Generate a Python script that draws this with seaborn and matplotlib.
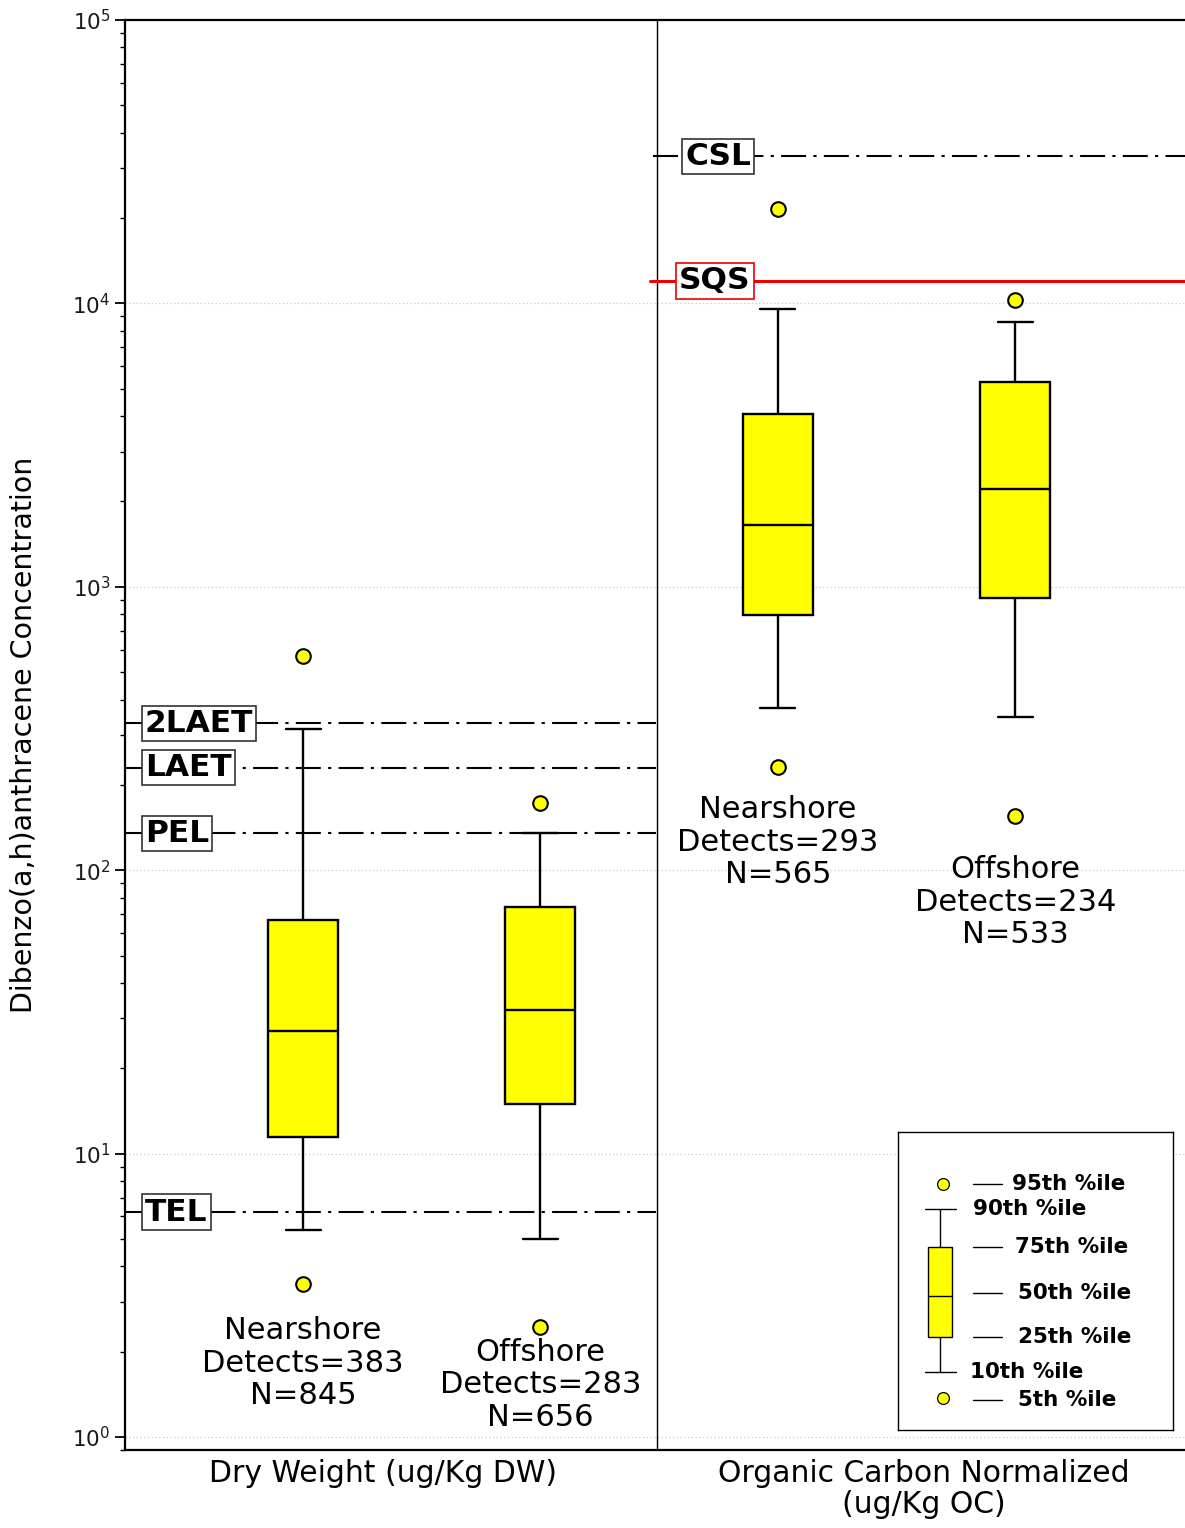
import numpy as np
import pandas as pd
import matplotlib
matplotlib.use("Agg")
import matplotlib.pyplot as plt
from matplotlib.patches import Rectangle
import seaborn as sns

# ---- data -------------------------------------------------------------
groups = ["Nearshore DW", "Offshore DW", "Nearshore OC", "Offshore OC"]
p05 = [3.47, 2.44, 231, 155]
p10 = [5.37, 5.0, 374, 347]
p25 = [11.4, 15.0, 795, 913]
p50 = [27.1, 32.1, 1652, 2213]
p75 = [66.7, 74.2, 4070, 5280]
p90 = [315, 135, 9550, 8600]
p95 = [570, 173, 21540, 10280]

group_text = [
    "Nearshore\nDetects=383\nN=845",
    "Offshore\nDetects=283\nN=656",
    "Nearshore\nDetects=293\nN=565",
    "Offshore\nDetects=234\nN=533",
]

dw_names = ["2LAET", "LAET", "PEL", "TEL"]
dw_values = [330, 230, 135, 6.22]
oc_names = ["CSL", "SQS"]
oc_values = [33000, 12000]

legend_labels = ["95th %ile", "90th %ile", "75th %ile", "50th %ile",
                 "25th %ile", "10th %ile", "5th %ile"]

# ---- long-form tables -------------------------------------------------
box_rows = []
for i, g in enumerate(groups):
    for v in (p10[i], p25[i], p50[i], p75[i], p90[i]):
        box_rows.append({"group": g, "value": v})
box_df = pd.DataFrame(box_rows)

pt_rows = []
for i, g in enumerate(groups):
    pt_rows.append({"group": g, "value": p05[i]})
    pt_rows.append({"group": g, "value": p95[i]})
pt_df = pd.DataFrame(pt_rows)

# ---- style ------------------------------------------------------------
sns.set_theme(style="white")
plt.rcParams["font.family"] = ["DejaVu Sans"]
plt.rcParams["text.color"] = "black"
plt.rcParams["axes.labelcolor"] = "black"
plt.rcParams["ytick.color"] = "black"

W, H = 1185, 1528
fig = plt.figure(figsize=(W / 100, H / 100), dpi=100)
ax = fig.add_axes([125 / W, 78 / H, 1060 / W, 1430 / H])

YELLOW = "#ffff00"

# boxes span the 10th-90th percentiles with whiskers
sns.boxplot(data=box_df, x="group", y="value", order=groups, whis=(0, 100),
            width=0.295, color=YELLOW, saturation=1, linecolor="black",
            linewidth=1.7, showfliers=False, log_scale=True, ax=ax, zorder=3)

# 5th / 95th percentile markers
sns.stripplot(data=pt_df, x="group", y="value", order=groups, jitter=False,
              color=YELLOW, edgecolor="black", linewidth=1.5, size=10.5,
              ax=ax, zorder=4)

ax.set_yscale("log")
ax.set_ylim(0.9, 1e5)
ax.set_xlim(-0.75, 3.715)

# group divider
ax.axvline(1.49, color="black", lw=1.0, zorder=2)

# decade gridlines
ax.yaxis.grid(True, which="major", color="#c8c8c8", linestyle=(0, (1, 2)), lw=0.9)
ax.set_axisbelow(True)

dashdot = (0, (12, 3.5, 1.5, 3.5))
xdiv = 0.501
label_fs = 22.5
label_box = dict(boxstyle="square,pad=0.1", fc="white", ec="#333333", lw=1.2)

# dry-weight criteria
for name, val in zip(dw_names, dw_values):
    ax.axhline(val, xmin=0, xmax=xdiv, color="black", lw=1.5,
               linestyle=dashdot, zorder=2)
    ax.text(0.0188, val, name, transform=ax.get_yaxis_transform(),
            ha="left", va="center", fontsize=label_fs, fontweight="bold",
            zorder=5, bbox=label_box)

# organic-carbon criteria
ax.axhline(oc_values[0], xmin=xdiv - 0.003, xmax=1, color="black", lw=1.5,
           linestyle=dashdot, zorder=2)
ax.text(0.5594, oc_values[0], oc_names[0], transform=ax.get_yaxis_transform(),
        ha="center", va="center", fontsize=label_fs, fontweight="bold",
        zorder=5, bbox=label_box)
ax.axhline(oc_values[1], xmin=xdiv - 0.006, xmax=1, color="#ee0000", lw=2.2,
           zorder=2)
ax.text(0.5566, oc_values[1], oc_names[1], transform=ax.get_yaxis_transform(),
        ha="center", va="center", fontsize=label_fs, fontweight="bold", zorder=5,
        bbox=dict(boxstyle="square,pad=0.1", fc="white", ec="#ee0000", lw=1.2))

# group annotations
text_tops = [0.0935, 0.0785, 0.458, 0.416]
blend = ax.get_xaxis_transform()
for i, t in enumerate(group_text):
    ax.text(i, text_tops[i], t, transform=blend, ha="center", va="top",
            fontsize=22, linespacing=1.15, zorder=5)

# axes cosmetics
ax.set_xticks([])
ax.set_xlabel("")
ax.set_ylabel("Dibenzo(a,h)anthracene Concentration", fontsize=20.5)
ax.yaxis.set_label_coords(-0.083, 0.5)
for side in ("top", "left", "bottom"):
    ax.spines[side].set_visible(True)
    ax.spines[side].set_color("black")
    ax.spines[side].set_linewidth(1.6)
ax.spines["right"].set_visible(False)
ax.tick_params(axis="y", which="major", left=True, direction="out", length=7,
               width=1.3, labelsize=15.5, labelcolor="#1a1a1a", color="black")
ax.tick_params(axis="y", which="minor", left=True, direction="out", length=3.5,
               width=1.0, color="black")

ax.text(0.243, -0.006, "Dry Weight (ug/Kg DW)", transform=ax.transAxes,
        ha="center", va="top", fontsize=21.5)
ax.text(0.754, -0.006, "Organic Carbon Normalized\n(ug/Kg OC)",
        transform=ax.transAxes, ha="center", va="top", fontsize=21.5,
        linespacing=1.12)

# ---- percentile key ---------------------------------------------------
lg = ax.inset_axes([0.7292, 0.014, 0.2594, 0.2084])
lg.set_xlim(0, 275)
lg.set_ylim(298, 0)
lg.set_xticks([])
lg.set_yticks([])
lg.set_facecolor("white")
for s in lg.spines.values():
    s.set_visible(True)
    s.set_color("black")
    s.set_linewidth(1.0)
lg.set_zorder(6)

cx = 42
lg.add_patch(Rectangle((30, 115), 24, 90, fc=YELLOW, ec="black", lw=1.0))
lg.plot([30, 54], [164, 164], color="black", lw=1.0)
lg.plot([cx, cx], [77, 115], color="black", lw=1.0)
lg.plot([cx, cx], [205, 240], color="black", lw=1.0)
lg.plot([27, 58], [77, 77], color="black", lw=1.0)
lg.plot([27, 58], [240, 240], color="black", lw=1.0)
lg.plot([45, 45], [52, 266], linestyle="none", marker="o", markersize=8.5,
        mfc=YELLOW, mec="black", mew=0.9)

key_y = [52, 77, 115, 161, 205, 240, 268]
key_x = [114, 75, 117, 120, 120, 72, 120]
key_line = [True, False, True, True, True, False, True]
for lab, yy, xx, has_line in zip(legend_labels, key_y, key_x, key_line):
    if has_line:
        lg.plot([75, 104], [yy, yy], color="black", lw=1.0)
    lg.text(xx, yy, lab, ha="left", va="center", fontsize=15.5,
            fontweight="bold")

fig.savefig("out.png", dpi=100, facecolor="white")
